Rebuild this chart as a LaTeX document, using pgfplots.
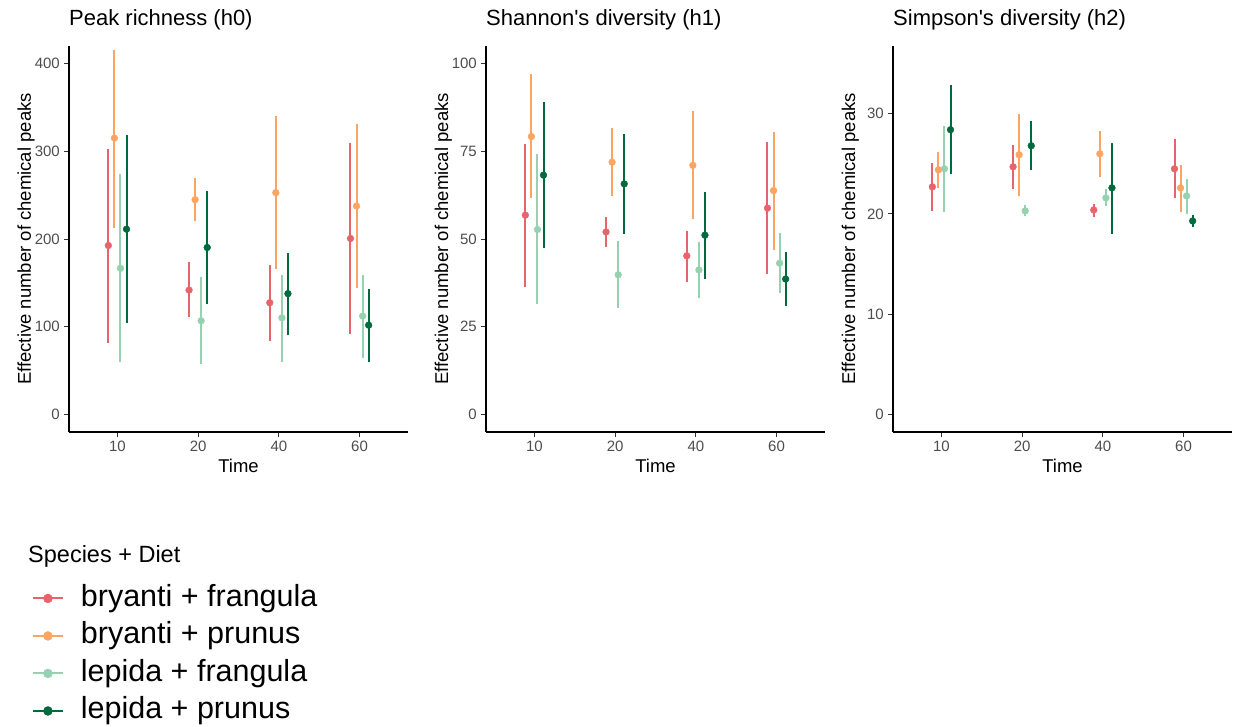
\documentclass[border=0pt]{standalone}
\usepackage{fontspec}
\setmainfont{Liberation Sans}
\usepackage{pgfplots}
\usepackage{pgfplotstable}
\pgfplotsset{compat=1.18}
\definecolor{cRF}{HTML}{E8636B}
\definecolor{cBP}{HTML}{FCA562}
\definecolor{cLF}{HTML}{96D2B0}
\definecolor{cLP}{HTML}{00693E}
\definecolor{tickgray}{HTML}{4D4D4D}

% columns: g, then y/lo/hi for bryanti+frangula (a), bryanti+prunus (b), lepida+frangula (c), lepida+prunus (d)
\pgfplotstableread{
g ay al ah by bl bh cy cl ch dy dl dh
1 192.6 82.0 302.8 315.0 212.8 416.0 166.6 59.9 273.8 211.2 103.7 318.8
2 141.8 110.6 173.5 244.8 220.0 269.6 106.8 57.2 156.3 190.3 126.2 254.3
3 127.4 83.9 170.8 252.8 165.5 340.5 110.2 60.2 158.6 137.7 91.1 184.2
4 200.6 91.5 308.9 237.6 144.1 330.6 112.1 64.8 159.0 101.8 59.9 143.0
}\hzero
\pgfplotstableread{
g ay al ah by bl bh cy cl ch dy dl dh
1 56.8 36.3 77.1 79.2 61.6 96.9 52.7 31.5 74.1 68.2 47.5 88.9
2 52.0 47.8 56.2 71.9 62.3 81.5 39.8 30.2 49.4 65.7 51.4 80.0
3 45.2 37.8 52.4 71.0 55.7 86.5 41.2 33.1 49.2 51.1 38.6 63.5
4 58.8 40.1 77.5 63.8 47.0 80.6 43.1 34.6 51.7 38.6 30.9 46.3
}\hone
\pgfplotstableread{
g ay al ah by bl bh cy cl ch dy dl dh
1 22.7 20.3 25.1 24.4 22.6 26.2 24.5 20.2 28.8 28.4 24.0 32.9
2 24.7 22.5 26.9 25.9 21.8 30.0 20.3 19.8 20.9 26.8 24.4 29.3
3 20.4 19.7 21.0 26.0 23.7 28.3 21.6 20.8 22.5 22.6 18.0 27.1
4 24.5 21.6 27.5 22.6 20.2 24.9 21.8 20.0 23.5 19.3 18.7 19.9
}\htwo

\pgfplotsset{
  panel/.style={
    scale only axis, width=339pt, height=386pt, anchor=south west,
    xmin=0.4, xmax=4.6, xtick={1,2,3,4}, xticklabels={10,20,40,60},
    axis lines=left, axis line style={-, line width=1.1pt, black},
    tick align=outside, major tick length=5pt,
    tick style={line width=0.9pt, color=black!80},
    minor tick num=0,
    /pgf/number format/assume math mode=true,
    ticklabel style={font=\fontsize{15}{18}\selectfont, color=tickgray},
    yticklabel style={anchor=east, inner sep=0pt, xshift=-4pt},
    xticklabel style={anchor=north, inner sep=0pt, yshift=-4pt},
    xlabel={Time}, ylabel={Effective number of chemical peaks},
    label style={font=\fontsize{18.5}{22}\selectfont, inner sep=0pt},
    xlabel style={at={(axis description cs:0.5,-0.1062)}, anchor=base},
    ylabel style={at={(axis description cs:-0.1121,0.5)}, anchor=base},
    title style={at={(axis description cs:0,1.0363)}, anchor=base west, inner sep=0pt, font=\fontsize{22}{26}\selectfont},
    clip=false,
  },
  ser/.style={only marks, mark=*, mark size=3.4pt, color=#1,
    mark options={draw=none, fill=#1},
    error bars/.cd, y dir=both, y explicit, error mark=none,
    error bar style={line width=2pt, color=#1}},
}

\newcommand{\panelplots}[1]{%
  \addplot+[ser=cRF] table[x expr=\thisrow{g}-0.1125, y=ay,
    y error plus expr=\thisrow{ah}-\thisrow{ay}, y error minus expr=\thisrow{ay}-\thisrow{al}] {#1};
  \addplot+[ser=cBP] table[x expr=\thisrow{g}-0.0375, y=by,
    y error plus expr=\thisrow{bh}-\thisrow{by}, y error minus expr=\thisrow{by}-\thisrow{bl}] {#1};
  \addplot+[ser=cLF] table[x expr=\thisrow{g}+0.0375, y=cy,
    y error plus expr=\thisrow{ch}-\thisrow{cy}, y error minus expr=\thisrow{cy}-\thisrow{cl}] {#1};
  \addplot+[ser=cLP] table[x expr=\thisrow{g}+0.1125, y=dy,
    y error plus expr=\thisrow{dh}-\thisrow{dy}, y error minus expr=\thisrow{dy}-\thisrow{dl}] {#1};
}

\begin{document}
\begin{tikzpicture}
\useasboundingbox (0,0) rectangle (1233pt,726pt);
\begin{axis}[panel, at={(69pt,294pt)},
  title={Peak richness (h0)},
  ymin=-20, ymax=420, ytick={0,100,200,300,400},
  legend image code/.code={
    \draw[line width=2pt] (0pt,2.5pt) -- (30pt,2.5pt);
    \fill (15pt,2.5pt) circle (4.5pt);},
  legend style={at={(axis description cs:-0.110,-0.3886)}, anchor=north west,
    draw=none, fill=none, inner sep=0pt, row sep=0pt, column sep=17pt,
    font=\fontsize{30.5}{36}\selectfont,
    nodes={inner sep=0pt, text height=24pt, text depth=13.5pt}},
  legend cell align=left,
]
\panelplots{\hzero}
\legend{bryanti + frangula, bryanti + prunus, lepida + frangula, lepida + prunus}
\end{axis}
\begin{axis}[panel, at={(486pt,294pt)},
  title={Shannon\textquotesingle s diversity (h1)},
  ymin=-5, ymax=105, ytick={0,25,50,75,100},
]
\panelplots{\hone}
\end{axis}
\begin{axis}[panel, at={(893pt,294pt)},
  title={Simpson\textquotesingle s diversity (h2)},
  ymin=-1.75, ymax=36.75, ytick={0,10,20,30},
]
\panelplots{\htwo}
\end{axis}
\node[anchor=base west, inner sep=0pt, font=\fontsize{23.5}{28}\selectfont] at (28pt,163.3pt) {Species + Diet};
\end{tikzpicture}
\end{document}
